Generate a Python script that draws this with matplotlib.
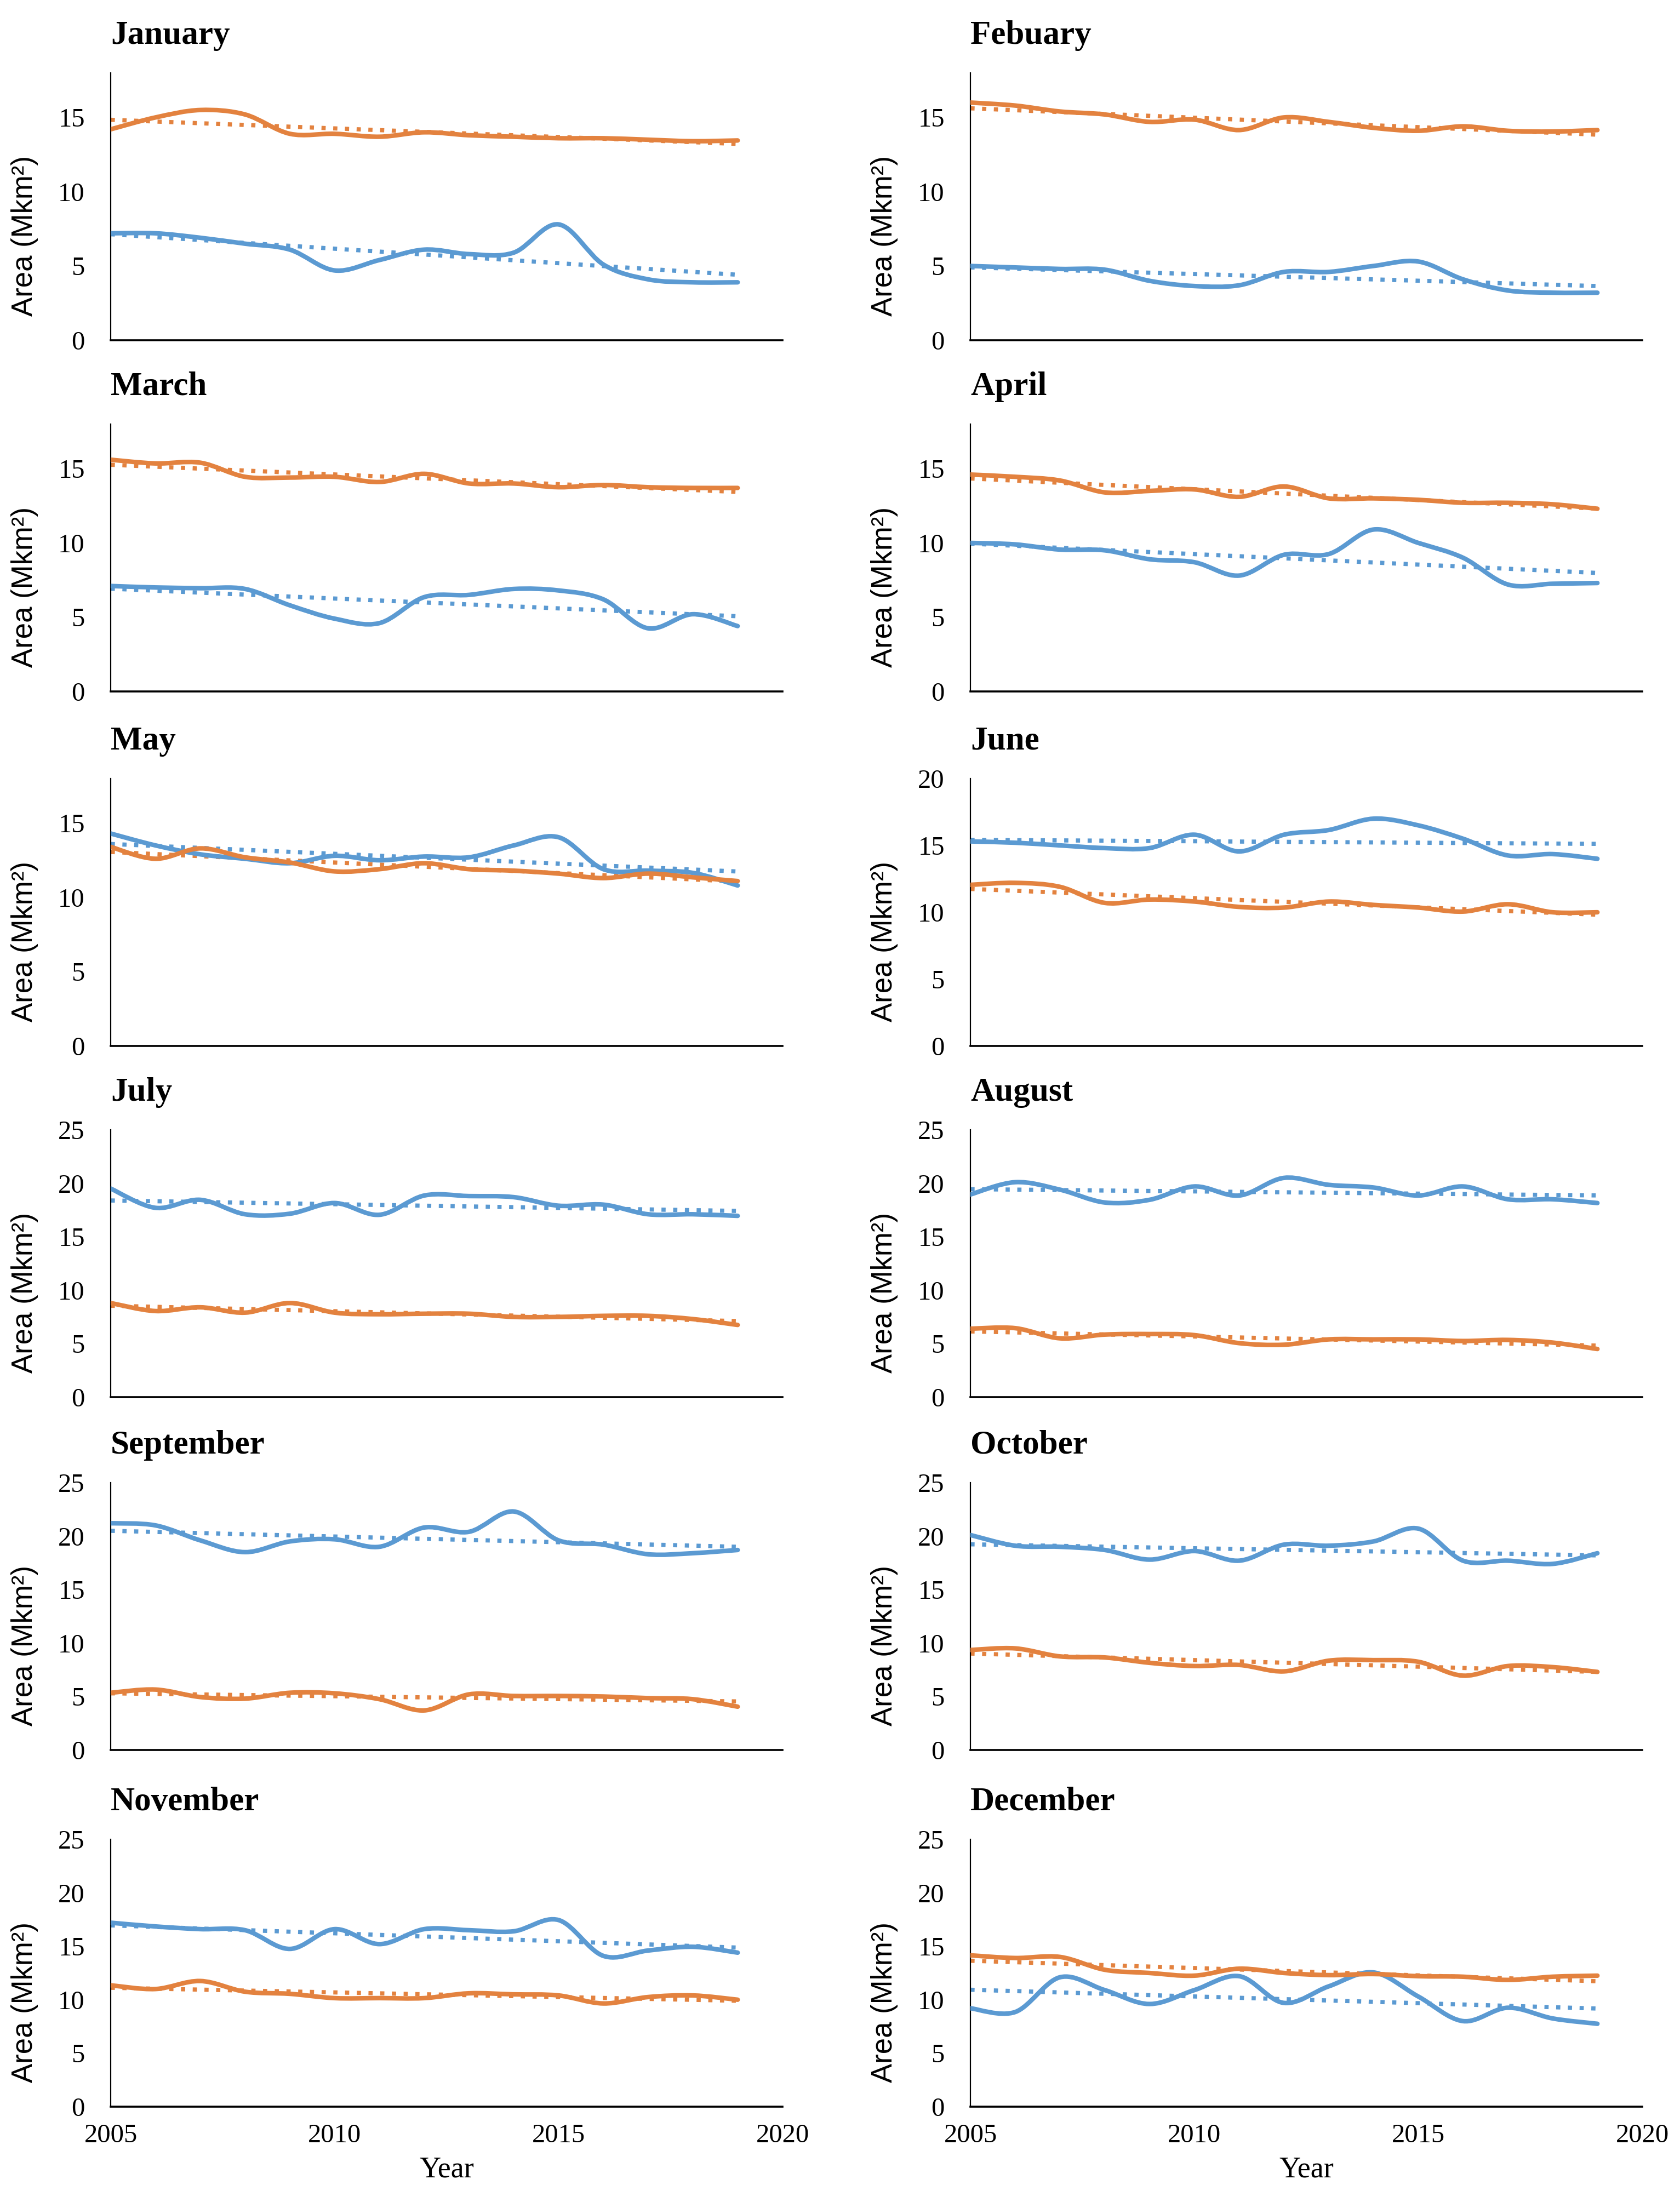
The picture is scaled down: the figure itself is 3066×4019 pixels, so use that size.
import numpy as np
import matplotlib
matplotlib.use("Agg")
from matplotlib import pyplot as plt
from matplotlib.path import Path
from matplotlib.patches import PathPatch

plt.rcParams['font.family'] = ['Liberation Serif', 'DejaVu Serif']

years = np.arange(2005, 2020)
month_names = ["January", "Febuary", "March", "April", "May", "June",
               "July", "August", "September", "October", "November", "December"]
y_max = [18, 18, 18, 18, 18, 20, 25, 25, 25, 25, 25, 25]

# blue series (Mkm2), one value per year 2005-2019
blue_jan = [7.2, 7.2, 6.9, 6.5, 6.1, 4.7, 5.4, 6.1, 5.8, 5.9, 7.8, 5.1, 4.1, 3.9, 3.9]
blue_feb = [5.0, 4.9, 4.8, 4.75, 4.0, 3.65, 3.7, 4.6, 4.6, 5.0, 5.3, 4.1, 3.35, 3.2, 3.2]
blue_mar = [7.1, 7.0, 6.95, 6.9, 5.8, 4.9, 4.6, 6.35, 6.5, 6.9, 6.8, 6.2, 4.25, 5.2, 4.4]
blue_apr = [10.0, 9.9, 9.55, 9.5, 8.9, 8.7, 7.8, 9.2, 9.25, 10.9, 10.0, 9.0, 7.2, 7.25, 7.3]
blue_may = [14.3, 13.5, 12.9, 12.6, 12.3, 12.8, 12.5, 12.75, 12.7, 13.5, 14.05, 11.9, 11.8, 11.65, 10.8]
blue_jun = [15.3, 15.2, 15.0, 14.8, 14.8, 15.8, 14.55, 15.8, 16.15, 17.0, 16.5, 15.5, 14.25, 14.35, 14.0]
blue_jul = [19.5, 17.7, 18.45, 17.1, 17.15, 18.15, 17.05, 18.85, 18.8, 18.7, 17.9, 18.0, 17.1, 17.1, 16.95]
blue_aug = [18.95, 20.1, 19.4, 18.2, 18.45, 19.7, 18.85, 20.5, 19.85, 19.6, 18.85, 19.7, 18.5, 18.5, 18.15]
blue_sep = [21.2, 21.0, 19.6, 18.5, 19.5, 19.7, 19.0, 20.8, 20.4, 22.3, 19.6, 19.2, 18.3, 18.4, 18.7]
blue_oct = [20.1, 19.1, 19.0, 18.7, 17.8, 18.6, 17.7, 19.2, 19.1, 19.5, 20.7, 17.7, 17.7, 17.4, 18.4]
blue_nov = [17.2, 16.85, 16.6, 16.5, 14.75, 16.6, 15.2, 16.6, 16.5, 16.4, 17.45, 14.1, 14.6, 14.95, 14.4]
blue_dec = [9.2, 8.85, 12.1, 10.9, 9.6, 10.9, 12.2, 9.7, 11.25, 12.55, 10.3, 8.0, 9.25, 8.25, 7.75]

# orange series (Mkm2)
orange_jan = [14.2, 15.0, 15.5, 15.2, 13.9, 13.9, 13.7, 14.0, 13.8, 13.7, 13.6, 13.6, 13.5, 13.4, 13.45]
orange_feb = [16.0, 15.8, 15.4, 15.2, 14.7, 14.85, 14.15, 15.0, 14.7, 14.3, 14.1, 14.4, 14.1, 14.05, 14.15]
orange_mar = [15.6, 15.35, 15.4, 14.45, 14.4, 14.45, 14.1, 14.65, 14.0, 14.0, 13.75, 13.9, 13.75, 13.7, 13.7]
orange_apr = [14.6, 14.45, 14.2, 13.4, 13.5, 13.6, 13.1, 13.8, 13.0, 13.0, 12.9, 12.7, 12.7, 12.6, 12.3]
orange_may = [13.4, 12.6, 13.3, 12.7, 12.35, 11.75, 11.9, 12.3, 11.9, 11.8, 11.6, 11.3, 11.6, 11.35, 11.1]
orange_jun = [12.05, 12.2, 11.9, 10.7, 10.95, 10.8, 10.4, 10.35, 10.8, 10.55, 10.35, 10.05, 10.6, 10.0, 10.0]
orange_jul = [8.8, 8.05, 8.4, 7.9, 8.8, 7.9, 7.75, 7.8, 7.8, 7.5, 7.5, 7.6, 7.6, 7.3, 6.75]
orange_aug = [6.4, 6.45, 5.5, 5.85, 5.9, 5.8, 5.05, 4.9, 5.4, 5.4, 5.4, 5.25, 5.35, 5.1, 4.5]
orange_sep = [5.35, 5.65, 4.95, 4.8, 5.35, 5.3, 4.75, 3.7, 5.2, 5.05, 5.05, 5.0, 4.85, 4.75, 4.05]
orange_oct = [9.35, 9.5, 8.75, 8.65, 8.15, 7.85, 7.95, 7.35, 8.35, 8.4, 8.25, 6.95, 7.85, 7.75, 7.3]
orange_nov = [11.35, 11.0, 11.75, 10.75, 10.55, 10.15, 10.15, 10.15, 10.6, 10.5, 10.4, 9.65, 10.25, 10.4, 10.0]
orange_dec = [14.15, 13.9, 14.0, 12.8, 12.5, 12.25, 12.9, 12.5, 12.3, 12.4, 12.2, 12.15, 11.85, 12.15, 12.25]

blue_all = [blue_jan, blue_feb, blue_mar, blue_apr, blue_may, blue_jun,
            blue_jul, blue_aug, blue_sep, blue_oct, blue_nov, blue_dec]
orange_all = [orange_jan, orange_feb, orange_mar, orange_apr, orange_may, orange_jun,
              orange_jul, orange_aug, orange_sep, orange_oct, orange_nov, orange_dec]

BLUE = '#5B9AD2'
ORANGE = '#E3823F'
W, H = 3066, 4019


def smooth_path(x, y):
    # Excel-like smoothed line: cubic Bezier through every point
    pts = np.column_stack([x, y]).astype(float)
    n = len(pts)
    verts = [pts[0]]
    codes = [Path.MOVETO]
    for i in range(n - 1):
        p0 = pts[max(i - 1, 0)]
        p1 = pts[i]
        p2 = pts[i + 1]
        p3 = pts[min(i + 2, n - 1)]
        verts += [p1 + (p2 - p0) / 6, p2 - (p3 - p1) / 6, p2]
        codes += [Path.CURVE4] * 3
    return Path(verts, codes)


fig = plt.figure(figsize=(W / 100, H / 100), dpi=100)

col_left = [202, 1771]
ax_w = 1226
ax_h = 488
row_bottom = [621, 1262, 1909, 2550, 3194, 3845]

for i, name in enumerate(month_names):
    row, col = divmod(i, 2)
    x0 = col_left[col]
    yb = row_bottom[row]
    ax = fig.add_axes([x0 / W, 1 - yb / H, ax_w / W, ax_h / H])

    for vals, c in ((blue_all[i], BLUE), (orange_all[i], ORANGE)):
        vals = np.asarray(vals)
        ax.add_patch(PathPatch(smooth_path(years, vals), fill=False, edgecolor=c,
                               lw=6, capstyle='round', joinstyle='round', zorder=3))
        slope, inter = np.polyfit(years, vals, 1)
        ax.plot(years, slope * years + inter, color=c, lw=5.5,
                linestyle=(0, (1.0, 1.8)), zorder=2)

    ax.set_xlim(2005, 2020)
    ax.set_ylim(0, y_max[i])
    ax.set_xticks([2005, 2010, 2015, 2020])
    ax.set_yticks(np.arange(0, y_max[i] + 0.1, 5))
    ax.spines[['top', 'right']].set_visible(False)
    ax.spines['left'].set_linewidth(1.6)
    ax.spines['bottom'].set_linewidth(2.6)
    ax.tick_params(axis='y', length=0, pad=34, labelsize=35)
    ax.tick_params(axis='x', length=0, pad=22, labelsize=35,
                   labelbottom=(row == 5))

    ax.set_ylabel("Area (Mkm²)", family=['Liberation Sans', 'DejaVu Sans'], fontsize=38)
    ax.yaxis.set_label_coords(-132 / ax_w, 0.39)
    if row == 5:
        ax.set_xlabel("Year", fontsize=39)
        ax.xaxis.set_label_coords(0.5, -115 / ax_h)
        ax.xaxis.label.set_va('center')

    ax.text(0.0, 1.14, name, transform=ax.transAxes,
            fontsize=44, fontweight='bold', ha='left', va='center')

fig.savefig("out.png", dpi=100)
